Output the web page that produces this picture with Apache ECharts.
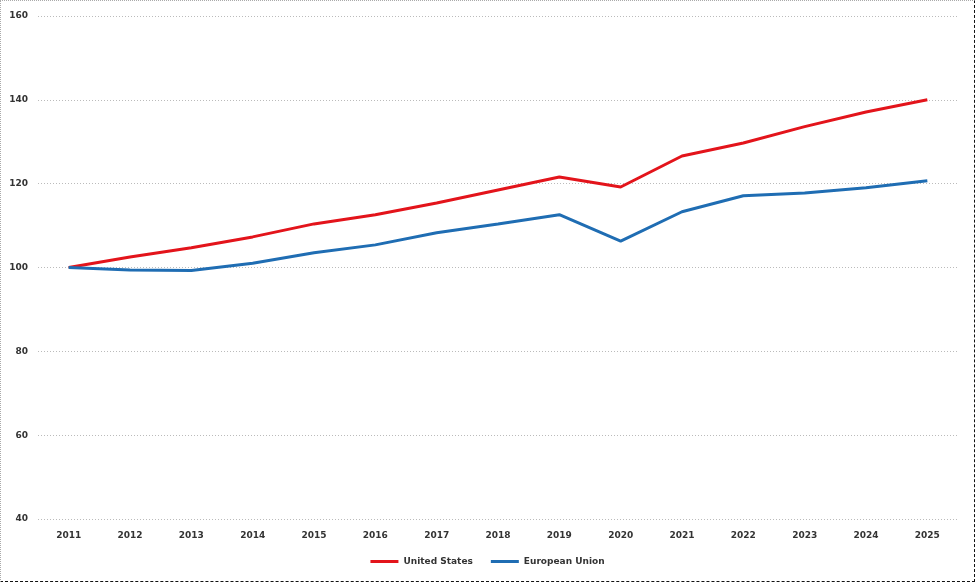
<!DOCTYPE html>
<html>
<head>
<meta charset="utf-8">
<script src="https://cdn.jsdelivr.net/npm/echarts@6/dist/echarts.min.js"></script>
<style>
  html, body { margin: 0; padding: 0; background: #fff; }
  #chart {
    width: 973px; height: 580px;
    border-left: 1px dotted #aaa; border-top: 1px dotted #aaa;
    border-right: 1px dashed #111; border-bottom: 1px dashed #111;
  }
</style>
</head>
<body>
<div id="chart"></div>
<script>
var years = ['2011', '2012', '2013', '2014', '2015', '2016', '2017', '2018', '2019', '2020', '2021', '2022', '2023', '2024', '2025']
var unitedStates = [100, 102.5, 104.7, 107.3, 110.4, 112.6, 115.4, 118.5, 121.6, 119.2, 126.6, 129.7, 133.6, 137.1, 140]
var europeanUnion = [100, 99.4, 99.3, 101, 103.5, 105.4, 108.3, 110.4, 112.6, 106.3, 113.3, 117.1, 117.8, 119, 120.7]

var myChart = echarts.init(document.getElementById('chart'))
var labelStyle = {
  color: '#333',
  fontFamily: 'DejaVu Sans',
  fontWeight: 'bold',
  fontSize: 9
}
myChart.setOption({
  animation: false,
  grid: { left: 37, right: 16, top: 15, bottom: 62 },
  legend: {
    bottom: 10,
    left: 'center',
    icon: 'rect',
    itemWidth: 28,
    itemHeight: 3,
    itemGap: 18,
    textStyle: labelStyle,
    data: ['United States', 'European Union']
  },
  xAxis: {
    type: 'category',
    data: years,
    axisLine: { show: false },
    axisTick: { show: false },
    axisLabel: Object.assign({ margin: 12 }, labelStyle)
  },
  yAxis: {
    type: 'value',
    min: 40,
    max: 160,
    interval: 20,
    axisLine: { show: false },
    axisTick: { show: false },
    axisLabel: Object.assign({ margin: 10 }, labelStyle),
    splitLine: { lineStyle: { color: '#bbb', type: [1, 2], width: 1 } }
  },
  series: [
    {
      name: 'United States',
      type: 'line',
      data: unitedStates,
      symbol: 'none',
      color: '#e3141b',
      lineStyle: { width: 3 }
    },
    {
      name: 'European Union',
      type: 'line',
      data: europeanUnion,
      symbol: 'none',
      color: '#1f6db3',
      lineStyle: { width: 3 }
    }
  ]
})
</script>
</body>
</html>
